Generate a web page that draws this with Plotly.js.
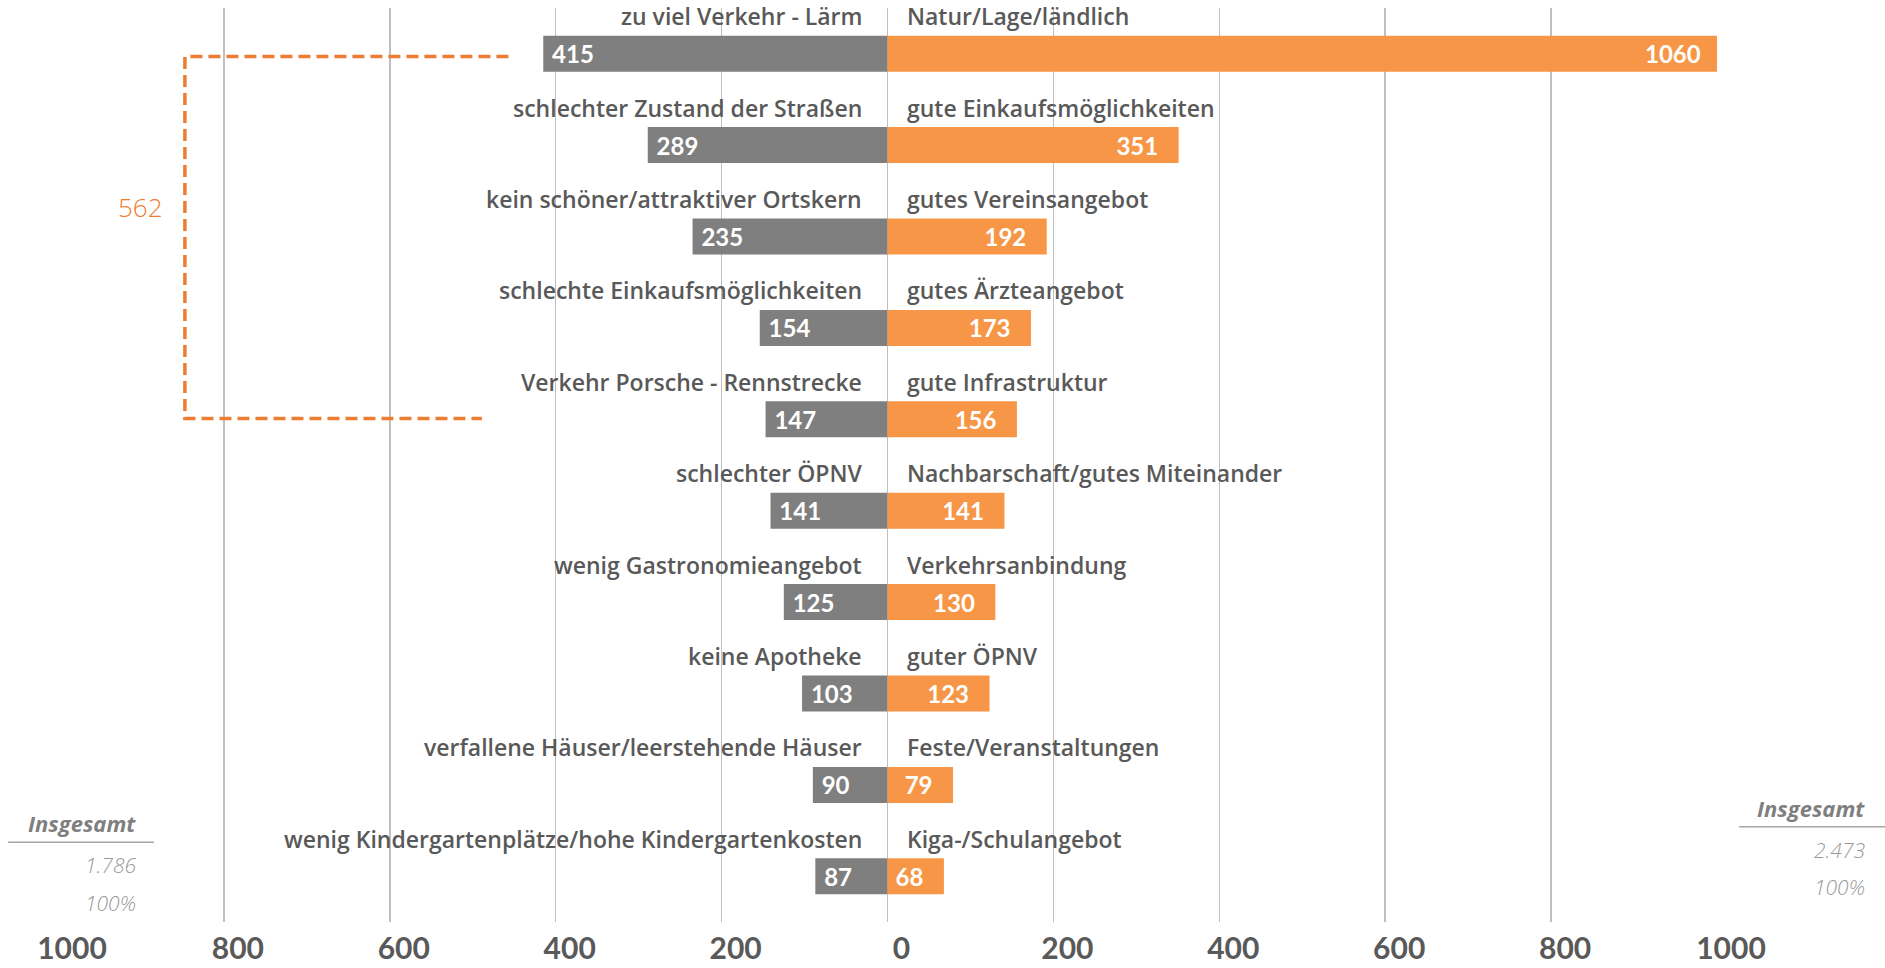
<!DOCTYPE html>
<html>
<head>
<meta charset="utf-8">
<script src="https://cdn.plot.ly/plotly-3.0.1.min.js"></script>
<style>
  html, body { margin: 0; padding: 0; background: #fff; }
  #plot { width: 1885px; height: 968px; }
</style>
</head>
<body>
<div id="plot"></div>
<script>
var negLabels = [
    'zu viel Verkehr - Lärm',
    'schlechter Zustand der Straßen',
    'kein schöner/attraktiver Ortskern',
    'schlechte Einkaufsmöglichkeiten',
    'Verkehr Porsche - Rennstrecke',
    'schlechter ÖPNV',
    'wenig Gastronomieangebot',
    'keine Apotheke',
    'verfallene Häuser/leerstehende Häuser',
    'wenig Kindergartenplätze/hohe Kindergartenkosten'
];
var negValues = [415, 289, 235, 154, 147, 141, 125, 103, 90, 87];

var posLabels = [
    'Natur/Lage/ländlich',
    'gute Einkaufsmöglichkeiten',
    'gutes Vereinsangebot',
    'gutes Ärzteangebot',
    'gute Infrastruktur',
    'Nachbarschaft/gutes Miteinander',
    'Verkehrsanbindung',
    'guter ÖPNV',
    'Feste/Veranstaltungen',
    'Kiga-/Schulangebot'
];
var posValues = [1060, 351, 192, 173, 156, 141, 130, 123, 79, 68];

var tickVals = [-1000, -800, -600, -400, -200, 0, 200, 400, 600, 800, 1000];
var tickText = ['1000', '800', '600', '400', '200', '0', '200', '400', '600', '800', '1000'];

var bracketLabel = '562';
var totalNeg = '1.786';
var totalPos = '2.473';

var X_MAX = 1000;
var FONT = 'Lato, "Open Sans", sans-serif';
var LABEL_FONT = '"Open Sans", Lato, sans-serif';
var rows = negValues.map(function (_, i) { return i; });

var negTrace = {
    type: 'bar',
    orientation: 'h',
    y: rows,
    x: negValues.map(function (v) { return -v; }),
    text: negValues.map(function (v) { return '\u00A0' + v; }),
    textposition: 'inside',
    insidetextanchor: 'end',
    constraintext: 'none',
    textfont: { family: FONT, size: 24, color: '#ffffff', weight: 700 },
    marker: { color: '#7f7f7f' },
    hoverinfo: 'skip'
};

// bars running past the axis end get their label as an annotation at the axis end
var posTrace = {
    type: 'bar',
    orientation: 'h',
    y: rows,
    x: posValues,
    text: posValues.map(function (v) { return v > X_MAX ? '' : v + '\u00A0\u00A0\u00A0'; }),
    textposition: 'inside',
    insidetextanchor: 'end',
    constraintext: 'none',
    textfont: { family: FONT, size: 24, color: '#ffffff', weight: 700 },
    marker: { color: '#f79646' },
    hoverinfo: 'skip'
};

var annotations = [];
var labelFont = { family: LABEL_FONT, size: 23, color: '#595959', weight: 600 };
rows.forEach(function (i) {
    annotations.push({
        x: -28, y: i - 0.41, xref: 'x', yref: 'y',
        text: negLabels[i], showarrow: false,
        xanchor: 'right', yanchor: 'middle', font: labelFont
    });
    annotations.push({
        x: 21, y: i - 0.41, xref: 'x', yref: 'y',
        text: posLabels[i], showarrow: false,
        xanchor: 'left', yanchor: 'middle', font: labelFont
    });
    if (posValues[i] > X_MAX) {
        annotations.push({
            x: X_MAX, y: i, xref: 'x', yref: 'y',
            text: String(posValues[i]), showarrow: false,
            xanchor: 'right', yanchor: 'middle', xshift: -14,
            font: { family: FONT, size: 24, color: '#ffffff', weight: 700 }
        });
    }
});

annotations.push({
    x: -901, y: 1.68, xref: 'x', yref: 'y',
    text: bracketLabel, showarrow: false,
    xanchor: 'center', yanchor: 'middle',
    font: { family: LABEL_FONT, size: 26, color: '#ed7d31', weight: 300 }
});

// totals, left and right
var headFont = { family: LABEL_FONT, size: 22, color: '#7f7f7f', weight: 700, style: 'italic' };
var numFont = { family: LABEL_FONT, size: 21, color: '#999999', weight: 300, style: 'italic' };
annotations.push(
    { x: 0.0485, y: 0.1084, xref: 'paper', yref: 'paper', text: 'Insgesamt', showarrow: false, xanchor: 'right', yanchor: 'middle', font: headFont },
    { x: 0.0485, y: 0.0628, xref: 'paper', yref: 'paper', text: totalNeg, showarrow: false, xanchor: 'right', yanchor: 'middle', font: numFont },
    { x: 0.0485, y: 0.0212, xref: 'paper', yref: 'paper', text: '100%', showarrow: false, xanchor: 'right', yanchor: 'middle', font: numFont },
    { x: 1.0905, y: 0.1251, xref: 'paper', yref: 'paper', text: 'Insgesamt', showarrow: false, xanchor: 'right', yanchor: 'middle', font: headFont },
    { x: 1.0905, y: 0.0792, xref: 'paper', yref: 'paper', text: totalPos, showarrow: false, xanchor: 'right', yanchor: 'middle', font: numFont },
    { x: 1.0905, y: 0.0383, xref: 'paper', yref: 'paper', text: '100%', showarrow: false, xanchor: 'right', yanchor: 'middle', font: numFont }
);

var shapes = [
    {
        type: 'path', xref: 'x', yref: 'y',
        path: 'M -457 0.03 L -847 0.03 L -847 3.99 L -489 3.99',
        line: { color: '#ed7d31', width: 3.5, dash: '12px,6px' }
    },
    { type: 'line', xref: 'paper', yref: 'paper', x0: -0.0301, x1: 0.0579, y0: 0.0872, y1: 0.0872, line: { color: '#a6a6a6', width: 1.5 } },
    { type: 'line', xref: 'paper', yref: 'paper', x0: 1.0133, x1: 1.1013, y0: 0.1043, y1: 0.1043, line: { color: '#a6a6a6', width: 1.5 } }
];

var layout = {
    width: 1885,
    height: 968,
    margin: { l: 58, r: 168, t: 8, b: 46 },
    paper_bgcolor: '#ffffff',
    plot_bgcolor: '#ffffff',
    barmode: 'relative',
    bargap: 0.606,
    showlegend: false,
    xaxis: {
        range: [-X_MAX, X_MAX],
        tickvals: tickVals,
        ticktext: tickText,
        tickfont: { family: FONT, size: 30, color: '#595959', weight: 700 },
        ticklabelstandoff: 6,
        ticklabelshift: 14,
        showgrid: true,
        gridcolor: '#bfbfbf',
        gridwidth: 1.5,
        zeroline: false,
        showline: false,
        fixedrange: true
    },
    yaxis: {
        range: [9.5, -0.5],
        showticklabels: false,
        showgrid: false,
        zeroline: false,
        showline: false,
        fixedrange: true
    },
    annotations: annotations,
    shapes: shapes
};

Plotly.newPlot('plot', [negTrace, posTrace], layout, { displayModeBar: false, staticPlot: true });
</script>
</body>
</html>
